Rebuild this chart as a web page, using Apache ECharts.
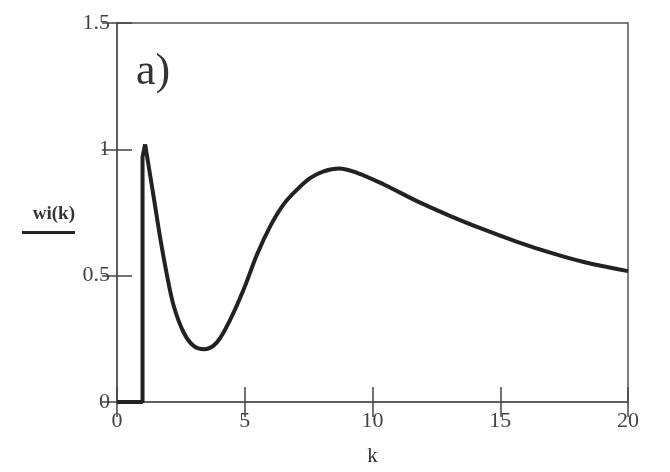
<!DOCTYPE html>
<html>
<head>
<meta charset="utf-8">
<script src="https://cdn.jsdelivr.net/npm/echarts@6/dist/echarts.min.js"></script>
<style>html,body{margin:0;padding:0;background:#fff;}#c{width:670px;height:472px;}</style>
</head>
<body>
<div id="c"></div>
<script>
// Step part (zero before k = 1, then jump)
const kStep = [0, 1, 1, 1.1];
const wStep = [0, 0, 0.97, 1.02];
// Continuous curve wi(k)
const kCurve = [1.1, 1.43, 1.70, 1.96, 2.22, 2.61, 3.0, 3.42, 3.91, 4.44, 4.96, 5.48, 6.0, 6.52, 7.05, 7.57, 8.09, 8.68, 9.39, 10.44, 11.74, 13.05, 14.35, 15.66, 16.96, 18.27, 20.0];
const wCurve = [1.02, 0.815, 0.644, 0.50, 0.38, 0.275, 0.222, 0.209, 0.236, 0.328, 0.446, 0.584, 0.696, 0.782, 0.841, 0.887, 0.913, 0.924, 0.907, 0.861, 0.795, 0.736, 0.683, 0.634, 0.591, 0.554, 0.518];
const xTicks = [0, 5, 10, 15, 20];
const yTicks = [0, 0.5, 1, 1.5];
const panelLabel = 'a)';
const xName = 'k';
const yName = 'wi(k)';

const serif = "'Liberation Serif','DejaVu Serif',serif";
const axisCol = '#555';
const tickStyle = {show: true, inside: true, length: 15, lineStyle: {color: '#444', width: 1.5}};

const chart = echarts.init(document.getElementById('c'), null, {renderer: 'canvas'});
chart.setOption({
  backgroundColor: '#fff',
  animation: false,
  title: {
    text: panelLabel, left: 131, top: 45,
    textStyle: {fontFamily: serif, fontSize: 44, fontWeight: 'normal', color: '#333'}
  },
  grid: {left: 117, right: 42, top: 23, bottom: 69, show: true, borderColor: axisCol, borderWidth: 1.5, backgroundColor: 'transparent'},
  xAxis: [{
    type: 'value', min: xTicks[0], max: xTicks[xTicks.length - 1], interval: 5,
    position: 'bottom',
    name: xName, nameLocation: 'middle', nameGap: 44,
    nameTextStyle: {fontFamily: serif, fontSize: 21, color: '#333'},
    axisLine: {show: true, lineStyle: {color: axisCol, width: 1.5}},
    axisTick: tickStyle,
    axisLabel: {fontFamily: serif, fontSize: 22, color: '#444', margin: 8},
    splitLine: {show: false}
  }, {
    type: 'value', min: xTicks[0], max: xTicks[xTicks.length - 1], interval: 5,
    position: 'top',
    axisLine: {show: false},
    axisTick: tickStyle,
    axisLabel: {show: false},
    splitLine: {show: false}
  }],
  yAxis: [{
    type: 'value', min: yTicks[0], max: yTicks[yTicks.length - 1], interval: 0.5,
    position: 'left',
    name: '{a|' + yName + '}\n{b|}', nameLocation: 'middle', nameRotate: 0, nameGap: 42,
    nameTextStyle: {
      align: 'right',
      padding: [7, 0, 0, 0],
      rich: {
        a: {fontFamily: serif, fontSize: 19, fontWeight: 'bold', color: '#333', lineHeight: 33},
        b: {width: 53, height: 3, backgroundColor: '#222'}
      }
    },
    axisLine: {show: true, lineStyle: {color: axisCol, width: 1.5}},
    axisTick: tickStyle,
    axisLabel: {fontFamily: serif, fontSize: 22, color: '#444', margin: 7, padding: [6, 0, 0, 0]},
    splitLine: {show: false}
  }, {
    type: 'value', min: yTicks[0], max: yTicks[yTicks.length - 1], interval: 0.5,
    position: 'right',
    axisLine: {show: false},
    axisTick: tickStyle,
    axisLabel: {show: false},
    splitLine: {show: false}
  }],
  series: [{
    type: 'line', xAxisIndex: 0, yAxisIndex: 0,
    data: kStep.map((k, i) => [k, wStep[i]]),
    showSymbol: false, smooth: false,
    lineStyle: {color: '#222', width: 4}
  }, {
    type: 'line', xAxisIndex: 0, yAxisIndex: 0,
    data: kCurve.map((k, i) => [k, wCurve[i]]),
    showSymbol: false, smooth: 0.35,
    lineStyle: {color: '#222', width: 4}
  }]
});
</script>
</body>
</html>
